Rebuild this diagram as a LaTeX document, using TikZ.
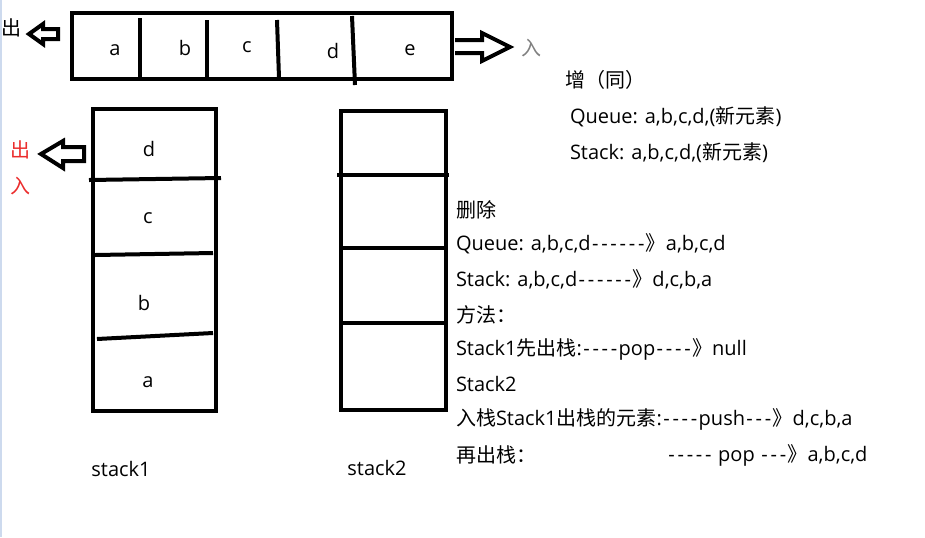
\documentclass[tikz,border=0pt]{standalone}
\usepackage{fontspec}
\setmainfont{Open Sans}[Ligatures=TeXOff]
\newfontfamily\cjk{Noto Sans CJK SC}[Ligatures=TeXOff]
\usetikzlibrary{positioning}
\definecolor{inred}{RGB}{235,45,45}
\definecolor{ingray}{RGB}{128,128,128}
\definecolor{edgeblue}{RGB}{205,218,238}
\newcommand{\dashrun}[1]{\foreach \k in {1,...,#1}{\makebox[0.46em]{-}}}

\begin{document}
\begin{tikzpicture}[x=0.75pt, y=-0.75pt, line width=3pt,
  every node/.style={font=\fontsize{15}{18}\selectfont, inner sep=0pt},
  line/.style={anchor=west},
  mark cjk/.style={font=\cjk\fontsize{15}{18}\selectfont}]
\useasboundingbox (0,0) rectangle (925,537);
\draw[line width=1.5pt, edgeblue] (1,0) -- (1,537);

% queue
\draw (72,13) rectangle (452,79);
\draw (140,18) -- (140,78);
\draw (207,20) -- (207,78);
\draw (277,20) -- (279,78);
\draw (352,16) -- (355,85);
\node (qa) at (115,50) {a};
\node (qb) at (185,48) {b};
\node (qc) at (247,47) {c};
\node (qd) at (333,51) {d};
\node (qe) at (410,50) {e};
\draw (58,29) -- (43,29) -- (43,24) -- (29,34) -- (43,44) -- (43,39) -- (58,39) -- cycle;
\node[mark cjk] (qout) at (12,28) {出};
\draw (455,40) -- (482,40) -- (482,33) -- (510,47) -- (482,61) -- (482,53) -- (455,53);
\node[ingray, mark cjk] (qin) at (531,48) {入};

% stack1
\draw (93,109) rectangle (216,411);
\draw (89,180) -- (221,178);
\draw (95,255) -- (213,253);
\draw (97,339) -- (213,333);
\node (sd) at (149,149) {d};
\node (sc) at (148,218) {c};
\node (sb) at (144,303) {b};
\node (sa) at (148,382) {a};
\draw (84,147) -- (63,147) -- (63,141) -- (41,154) -- (63,168) -- (63,161) -- (84,161) -- cycle;
\node[inred, mark cjk] (sout) at (20,150) {出};
\node[inred, mark cjk] (sin) at (20,186) {入};
\node (s1) at (121,469) {stack1};

% stack2
\draw (341,111) rectangle (446,410);
\draw (337,175) -- (449,175);
\draw (341,248) -- (446,248);
\draw (343,323) -- (446,323);
\node (s2) at (377,468) {stack2};

% text
\node[line] (add) at (563,80) {\cjk 增（同）};
\node[line] (addq) at (568,117) {Queue: a,b,c,d,({\cjk 新元素})};
\node[line] (adds) at (568,153) {Stack: a,b,c,d,({\cjk 新元素})};
\node[line] (del) at (454,210) {\cjk 删除};
\node[line] (delq) at (454,244) {Queue: a,b,c,d\dashrun{6}{\cjk 》}a,b,c,d};
\node[line] (dels) at (454,279) {Stack: a,b,c,d\dashrun{6}{\cjk 》}d,c,b,a};
\node[line] (way) at (454,315) {\cjk 方法：};
\node[line] (pop1) at (454,349) {Stack1{\cjk 先出栈}:\dashrun{4}pop\dashrun{4}{\cjk 》}null};
\node[line] (st2) at (454,384) {Stack2};
\node[line] (push) at (454,419) {{\cjk 入栈}Stack1{\cjk 出栈的元素}:\dashrun{4}push\dashrun{3}{\cjk 》}d,c,b,a};
\node[line] (pop2) at (454,455) {\cjk 再出栈：};
\node[line] (pop2b) at (665,455) {\dashrun{5} pop \dashrun{3}{\cjk 》}a,b,c,d};
\end{tikzpicture}
\end{document}
